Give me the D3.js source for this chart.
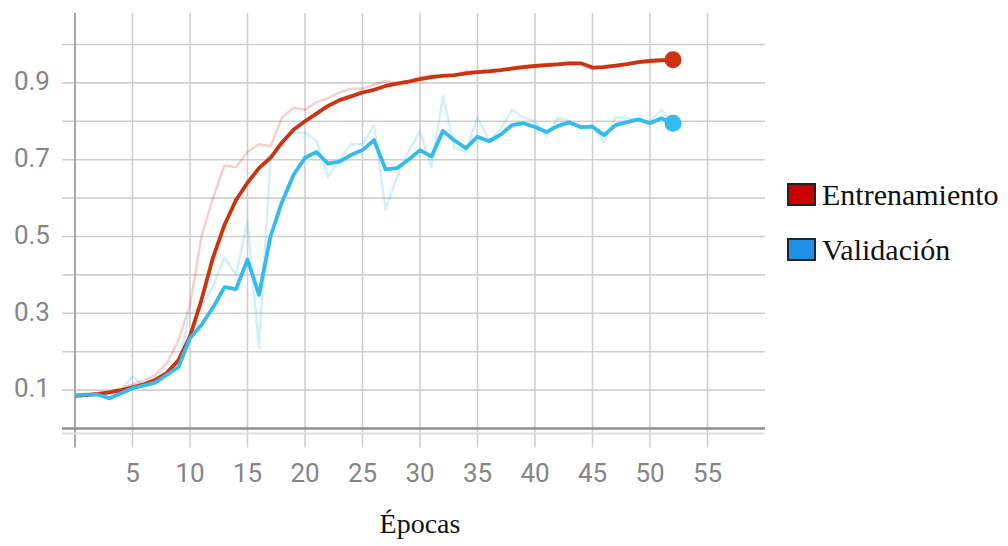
<!DOCTYPE html>
<html>
<head>
<meta charset="utf-8">
<script src="https://cdn.jsdelivr.net/npm/d3@7"></script>
<style>
  html, body { margin: 0; padding: 0; background: #fff; }
  svg { display: block; }
</style>
</head>
<body>
<div id="chart"></div>
<script>
// ---- data ----
const seriesNames = ["Entrenamiento", "Validación"];

// smoothed values per epoch (0..52)
const trainSmooth = [0.085, 0.087, 0.090, 0.094, 0.100, 0.107, 0.115, 0.127, 0.145, 0.178,
  0.240, 0.335, 0.445, 0.530, 0.595, 0.640, 0.678, 0.705, 0.745, 0.778,
  0.800, 0.820, 0.840, 0.855, 0.865, 0.875, 0.882, 0.892, 0.898, 0.903,
  0.910, 0.915, 0.918, 0.920, 0.925, 0.928, 0.930, 0.933, 0.937, 0.941,
  0.944, 0.946, 0.948, 0.951, 0.951, 0.940, 0.941, 0.945, 0.949, 0.954,
  0.957, 0.959, 0.960];
const trainRaw = [0.085, 0.088, 0.092, 0.097, 0.105, 0.115, 0.125, 0.140, 0.170, 0.230,
  0.320, 0.500, 0.600, 0.685, 0.680, 0.720, 0.740, 0.735, 0.810, 0.835,
  0.830, 0.850, 0.860, 0.875, 0.885, 0.885, 0.895, 0.905, 0.900, 0.905,
  0.915, 0.920, 0.920, 0.920, 0.930, 0.930, 0.935, 0.935, 0.940, 0.945,
  0.945, 0.950, 0.950, 0.955, 0.950, 0.935, 0.945, 0.945, 0.950, 0.955,
  0.960, 0.960, 0.960];
const valSmooth = [0.087, 0.088, 0.088, 0.079, 0.092, 0.105, 0.112, 0.120, 0.140, 0.160,
  0.235, 0.270, 0.315, 0.368, 0.363, 0.440, 0.348, 0.500, 0.590, 0.660,
  0.705, 0.720, 0.690, 0.695, 0.712, 0.725, 0.751, 0.675, 0.678, 0.700,
  0.725, 0.708, 0.775, 0.750, 0.730, 0.760, 0.748, 0.765, 0.790, 0.795,
  0.785, 0.772, 0.788, 0.797, 0.785, 0.786, 0.764, 0.790, 0.798, 0.805,
  0.795, 0.808, 0.795];
const valRaw = [0.087, 0.090, 0.087, 0.075, 0.100, 0.135, 0.110, 0.115, 0.150, 0.170,
  0.300, 0.320, 0.370, 0.445, 0.400, 0.540, 0.210, 0.700, 0.740, 0.770,
  0.770, 0.750, 0.655, 0.700, 0.740, 0.740, 0.790, 0.570, 0.655, 0.720,
  0.775, 0.680, 0.865, 0.730, 0.720, 0.810, 0.750, 0.780, 0.830, 0.810,
  0.800, 0.760, 0.810, 0.800, 0.780, 0.790, 0.745, 0.810, 0.810, 0.800,
  0.800, 0.830, 0.795];

const xTicks = [5, 10, 15, 20, 25, 30, 35, 40, 45, 50, 55];
const yGridTicks = [0.1, 0.2, 0.3, 0.4, 0.5, 0.6, 0.7, 0.8, 0.9, 1.0];
const yLabelTicks = [0.1, 0.3, 0.5, 0.7, 0.9];

// ---- layout ----
const width = 1008, height = 546;
const lineColors = ["#cc3311", "#33bbee"];
const legendColors = ["#cc0000", "#1e90e8"];
const tickFont = "Roboto, sans-serif";
const serifFont = "'Liberation Serif', 'Times New Roman', serif";

const x = d3.scaleLinear().domain([0, 60]).range([75, 765]);
const y = d3.scaleLinear().domain([0, 1.082]).range([428.5, 13]);

const svg = d3.select("#chart").append("svg")
  .attr("width", width)
  .attr("height", height);

// grid
const grid = svg.append("g");
grid.selectAll("line.v")
  .data(xTicks)
  .join("line")
    .attr("class", "v")
    .attr("x1", d => x(d)).attr("x2", d => x(d))
    .attr("y1", y.range()[1]).attr("y2", y(0) + 19)
    .attr("stroke", "#cfcfcf")
    .attr("stroke-width", 1.6);
grid.selectAll("line.h")
  .data(yGridTicks)
  .join("line")
    .attr("class", "h")
    .attr("x1", x(0) - 13).attr("x2", x.range()[1])
    .attr("y1", d => y(d)).attr("y2", d => y(d))
    .attr("stroke", "#cfcfcf")
    .attr("stroke-width", 1.6);

// axes lines
svg.append("line")
  .attr("x1", x(0)).attr("x2", x(0))
  .attr("y1", y.range()[1]).attr("y2", y(0) + 19)
  .attr("stroke", "#9e9e9e").attr("stroke-width", 1.8);
svg.append("line")
  .attr("x1", x(0) - 13).attr("x2", x.range()[1])
  .attr("y1", y(0) + 5).attr("y2", y(0) + 5)
  .attr("stroke", "#dedede").attr("stroke-width", 2);
svg.append("line")
  .attr("x1", x(0) - 13).attr("x2", x.range()[1])
  .attr("y1", y(0)).attr("y2", y(0))
  .attr("stroke", "#8f8f8f").attr("stroke-width", 2.6);

// tick labels
svg.append("g")
  .selectAll("text")
  .data(yLabelTicks)
  .join("text")
    .attr("x", 50)
    .attr("y", d => y(d) - 2)
    .attr("dy", "0.36em")
    .attr("text-anchor", "end")
    .attr("font-family", tickFont)
    .attr("font-size", 26)
    .attr("fill", "#858585")
    .text(d => d.toFixed(1));

svg.append("g")
  .selectAll("text")
  .data(xTicks)
  .join("text")
    .attr("x", d => x(d))
    .attr("y", 482)
    .attr("text-anchor", "middle")
    .attr("font-family", tickFont)
    .attr("font-size", 26)
    .attr("fill", "#858585")
    .text(d => d);

// axis title
svg.append("text")
  .attr("x", (x.range()[0] + x.range()[1]) / 2)
  .attr("y", 533)
  .attr("text-anchor", "middle")
  .attr("font-family", serifFont)
  .attr("font-size", 28)
  .attr("fill", "#111")
  .text("Épocas");

// lines
const line = d3.line()
  .x((d, i) => x(i))
  .y(d => y(d));

const rawSeries = [trainRaw, valRaw];
const smoothSeries = [trainSmooth, valSmooth];

svg.append("g")
  .selectAll("path")
  .data(rawSeries)
  .join("path")
    .attr("d", line)
    .attr("fill", "none")
    .attr("stroke", (d, i) => lineColors[i])
    .attr("stroke-opacity", 0.22)
    .attr("stroke-width", 2.5)
    .attr("stroke-linejoin", "round");

svg.append("g")
  .selectAll("path")
  .data(smoothSeries)
  .join("path")
    .attr("d", line)
    .attr("fill", "none")
    .attr("stroke", (d, i) => lineColors[i])
    .attr("stroke-width", 3.8)
    .attr("stroke-linejoin", "round");

// end points
svg.append("g")
  .selectAll("circle")
  .data(smoothSeries)
  .join("circle")
    .attr("cx", d => x(d.length - 1))
    .attr("cy", d => y(d[d.length - 1]))
    .attr("r", 8.5)
    .attr("fill", (d, i) => lineColors[i]);

// legend
const legend = svg.append("g")
  .selectAll("g")
  .data(seriesNames)
  .join("g")
    .attr("transform", (d, i) => `translate(788, ${184 + i * 55})`);
legend.append("rect")
  .attr("width", 27).attr("height", 21)
  .attr("fill", (d, i) => legendColors[i])
  .attr("stroke", "#2a2020")
  .attr("stroke-width", 2);
legend.append("text")
  .attr("x", 34)
  .attr("y", 21)
  .attr("font-family", serifFont)
  .attr("font-size", 30)
  .attr("fill", "#111")
  .text(d => d);
</script>
</body>
</html>
